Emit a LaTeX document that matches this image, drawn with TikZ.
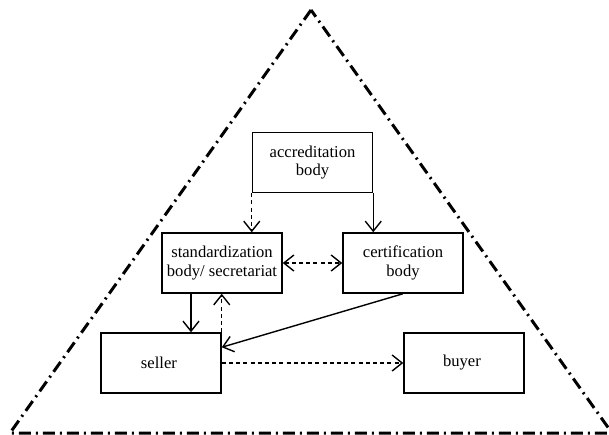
\documentclass[tikz,border=0pt]{standalone}
\usepackage{fontspec}
\setmainfont{Liberation Serif}
\usetikzlibrary{arrows.meta}

\tikzset{
    box/.style={draw, align=center, line width=0.75pt, minimum width=60pt,
        minimum height=30pt, inner sep=1pt, font=\fontsize{8.3}{9.2}\selectfont},
    >={Straight Barb[length=5pt, width=8pt]},
    barb/.style={->, line width=0.7pt},
    dashline/.style={dash pattern=on 2pt off 1.6pt},
}

\begin{document}
\begin{tikzpicture}[x=0.5pt, y=-0.5pt]
        \clip (0,0) rectangle (609,434);
        % outer triangle
        \draw[line width=1.5pt, dash pattern=on 6pt off 2.5pt on 1pt off 2.5pt]
            (311,10) -- (10,433) -- (612,433) -- cycle;
        \node[box] (Accreditation) at (312.5,162.5) {
            accreditation\\body
        };
        \node[box] (Standardization) at (222,263) {
            standardization\\body/ secretariat
        };
        \node[box] (Certification) at (403,263) {
            certification\\body
        };
        \node[box] (Seller) at (161,363) {
            seller
        };
        \node[box] (Buyer) at (464,363) {
            buyer
        };
        \coordinate (down) at ([xshift=-15.5pt]Standardization.south);
        \draw[barb, dashline] (Accreditation.south west) to
            (Standardization.north -| Accreditation.south west);
        \draw[barb] (Accreditation.south east) to
            (Certification.north -| Accreditation.south east);
        \draw[barb, dashline, <->] (Standardization) to (Certification);
        \draw[barb] (down) to (Seller.north -| down);
        \draw[barb, dashline] (Seller.north east) to
            (Standardization.south -| Seller.north east);
        \draw[barb] (Certification.south) to ([yshift=-7.5pt]Seller.north east);
        \draw[barb, dashline] (Seller) to (Buyer);
    \end{tikzpicture}
\end{document}
